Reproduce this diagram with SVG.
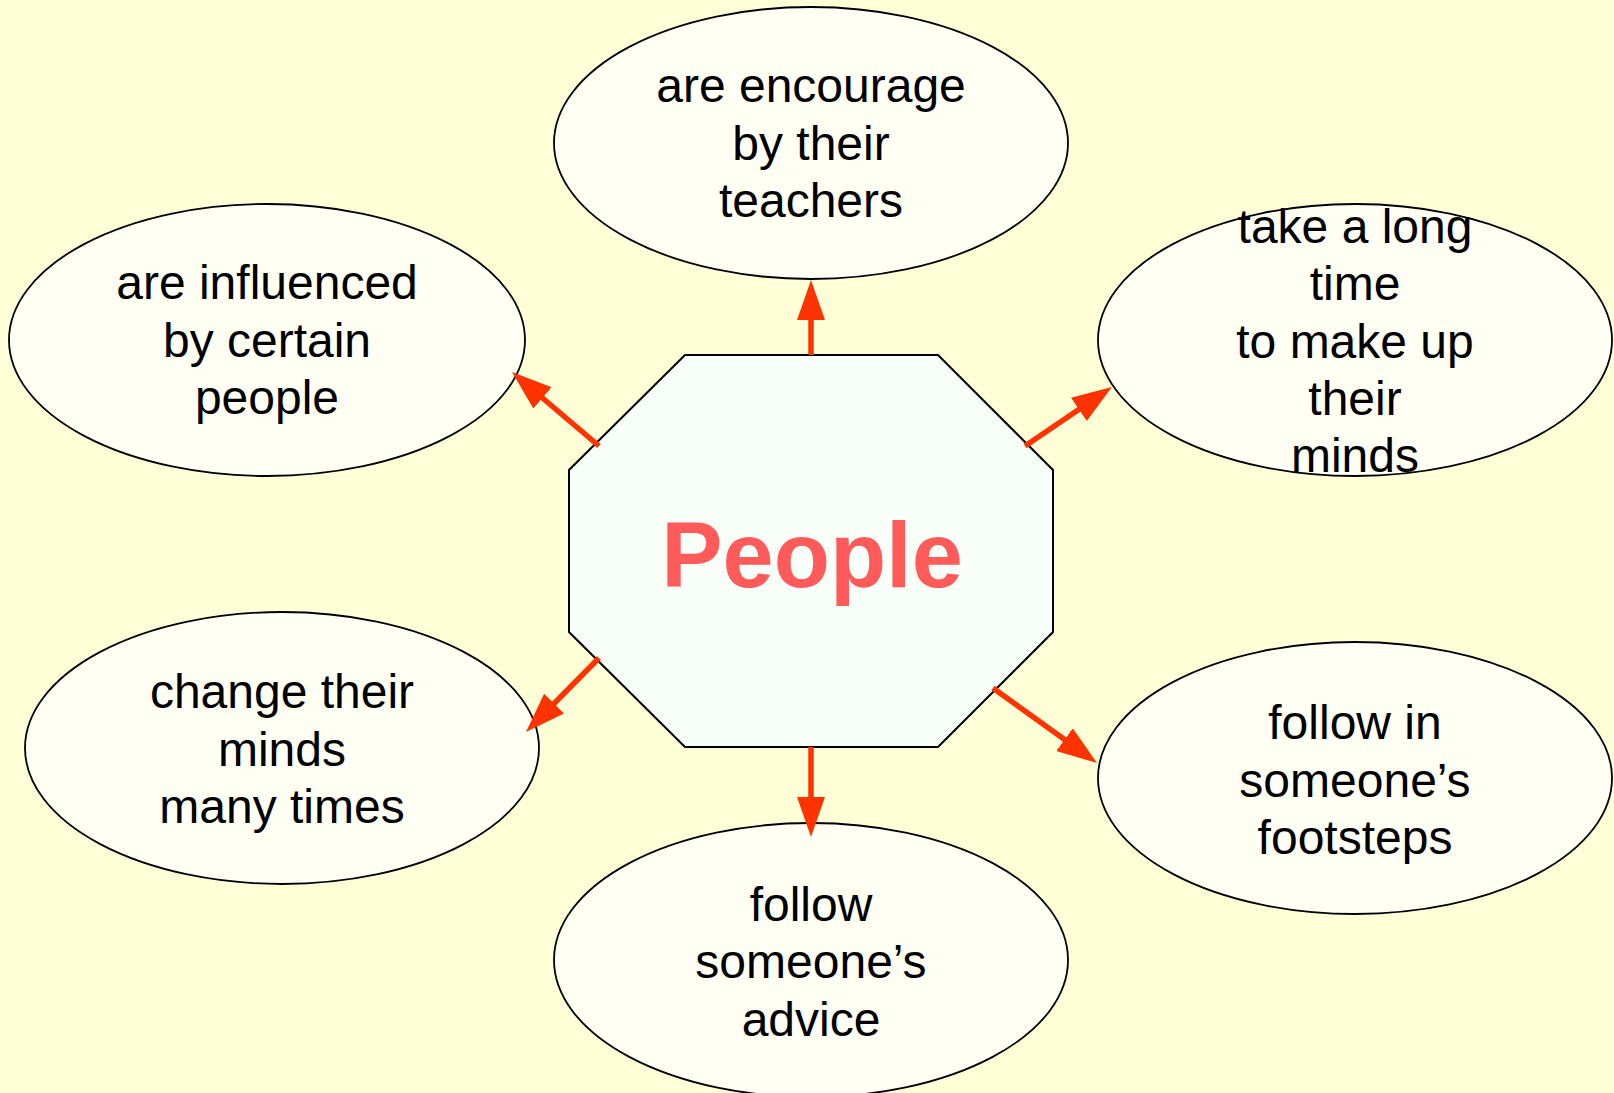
<svg xmlns="http://www.w3.org/2000/svg" width="1614" height="1093" viewBox="0 0 1614 1093">
<style>
.bubble{fill:#FFFFF3;stroke:#000;stroke-width:1.8}
.oct{fill:#F7FFF8;stroke:#000;stroke-width:2}
.lbl{font-family:"Liberation Sans",Arial,sans-serif;font-size:48px;fill:#000;text-anchor:middle}
.title{font-family:"Liberation Sans",Arial,sans-serif;font-size:92px;font-weight:bold;fill:#FF5B5B;text-anchor:middle}
.arr{stroke:#FF3300;stroke-width:5.5;fill:none;marker-end:url(#head)}
</style>
<defs>
<marker id="head" markerUnits="userSpaceOnUse" markerWidth="40" markerHeight="28" viewBox="0 0 40 28" refX="20" refY="14" orient="auto">
<path d="M0,0 L40,14 L0,28 z" fill="#FF3300"/>
</marker>
</defs>
<rect x="0" y="0" width="1614" height="1093" fill="#FFFFD7"/>
<g id="node-top">
<ellipse class="bubble" cx="811" cy="143" rx="257" ry="136"/>
<text class="lbl" x="811" y="102">are encourage</text>
<text class="lbl" x="811" y="160">by their</text>
<text class="lbl" x="811" y="217">teachers</text>
</g>
<g id="node-topleft">
<ellipse class="bubble" cx="267" cy="340" rx="258" ry="136"/>
<text class="lbl" x="267" y="299">are influenced</text>
<text class="lbl" x="267" y="357">by certain</text>
<text class="lbl" x="267" y="414">people</text>
</g>
<g id="node-topright">
<ellipse class="bubble" cx="1355" cy="340" rx="257" ry="136"/>
<text class="lbl" x="1355" y="243">take a long</text>
<text class="lbl" x="1355" y="300">time</text>
<text class="lbl" x="1355" y="358">to make up</text>
<text class="lbl" x="1355" y="415">their</text>
<text class="lbl" x="1355" y="472">minds</text>
</g>
<g id="node-bottomleft">
<ellipse class="bubble" cx="282" cy="748" rx="257" ry="136"/>
<text class="lbl" x="282" y="708">change their</text>
<text class="lbl" x="282" y="766">minds</text>
<text class="lbl" x="282" y="823">many times</text>
</g>
<g id="node-bottomright">
<ellipse class="bubble" cx="1355" cy="778" rx="257" ry="136"/>
<text class="lbl" x="1355" y="739">follow in</text>
<text class="lbl" x="1355" y="797">someone’s</text>
<text class="lbl" x="1355" y="854">footsteps</text>
</g>
<g id="node-bottom">
<ellipse class="bubble" cx="811" cy="960" rx="257" ry="137"/>
<text class="lbl" x="811" y="921">follow</text>
<text class="lbl" x="811" y="978">someone’s</text>
<text class="lbl" x="811" y="1036">advice</text>
</g>
<g id="node-people">
<polygon class="oct" points="685,355 938,355 1053,470 1053,632 938,747 685,747 569,632 569,470"/>
<text class="title" x="812" y="587">People</text>
</g>
<g id="connectors">
<line class="arr" x1="811" y1="355" x2="811" y2="300"/>
<line class="arr" x1="599" y1="446" x2="527.2" y2="385"/>
<line class="arr" x1="1025" y1="446" x2="1095.4" y2="398.2"/>
<line class="arr" x1="599" y1="658" x2="540" y2="717.8"/>
<line class="arr" x1="993" y1="688" x2="1080.8" y2="751.3"/>
<line class="arr" x1="811" y1="747" x2="811" y2="817"/>
</g>
</svg>
